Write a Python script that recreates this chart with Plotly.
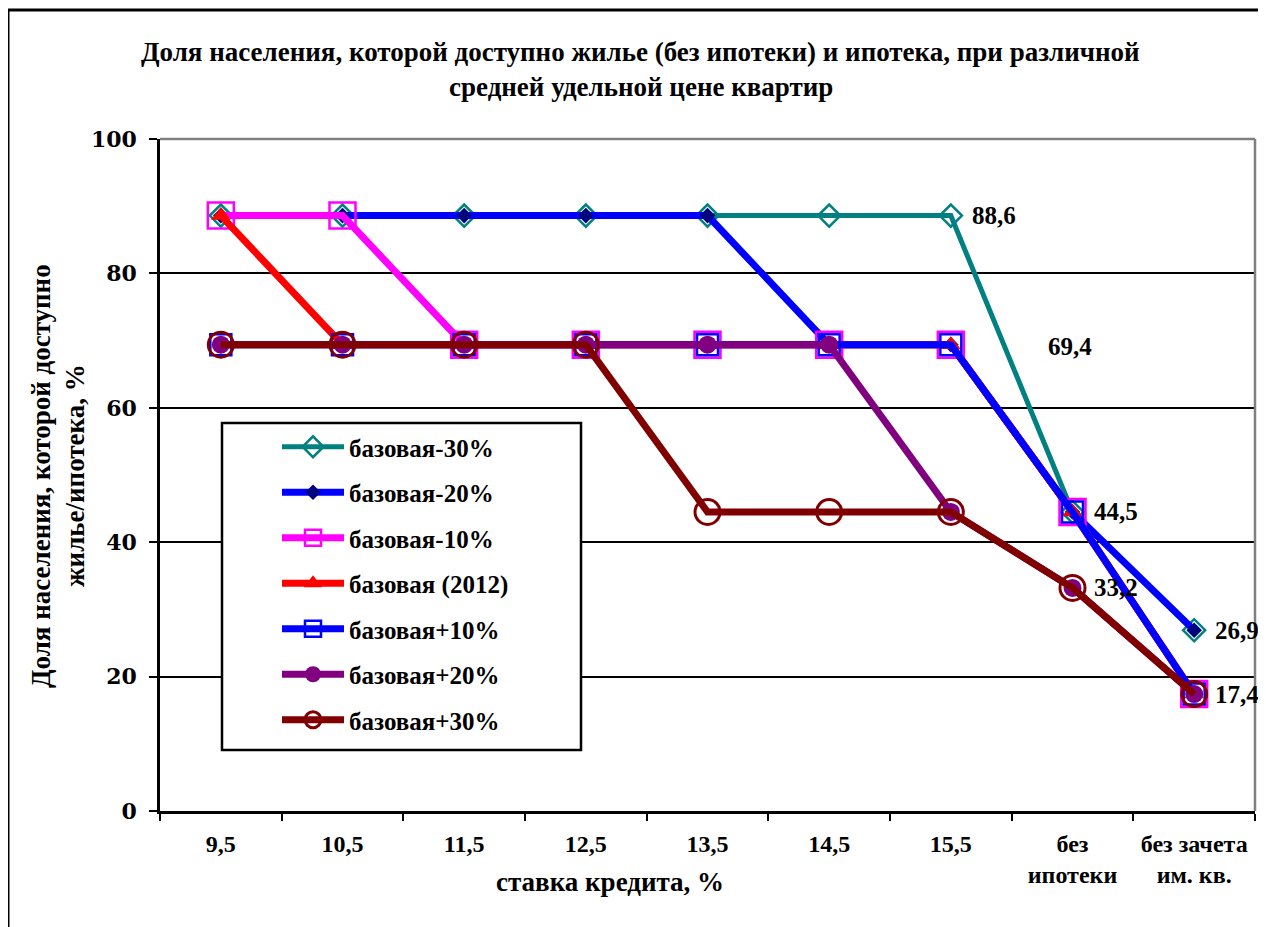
import plotly.graph_objects as go

# ---------------- data ----------------
categories = ["9,5", "10,5", "11,5", "12,5", "13,5", "14,5", "15,5", "без ипотеки", "без зачета им. кв."]
tick_labels = ["9,5", "10,5", "11,5", "12,5", "13,5", "14,5", "15,5", "без<br>ипотеки", "без зачета<br>им. кв."]

series_names = ["базовая-30%", "базовая-20%", "базовая-10%", "базовая (2012)",
                "базовая+10%", "базовая+20%", "базовая+30%"]
base_minus30 = [88.6, 88.6, 88.6, 88.6, 88.6, 88.6, 88.6, 44.5, 26.9]
base_minus20 = [88.6, 88.6, 88.6, 88.6, 88.6, 69.4, 69.4, 44.5, 26.9]
base_minus10 = [88.6, 88.6, 69.4, 69.4, 69.4, 69.4, 69.4, 44.5, 17.4]
base_2012 = [88.6, 69.4, 69.4, 69.4, 69.4, 69.4, 69.4, 44.5, 17.4]
base_plus10 = [69.4, 69.4, 69.4, 69.4, 69.4, 69.4, 69.4, 44.5, 17.4]
base_plus20 = [69.4, 69.4, 69.4, 69.4, 69.4, 69.4, 44.5, 33.2, 17.4]
base_plus30 = [69.4, 69.4, 69.4, 69.4, 44.5, 44.5, 44.5, 33.2, 17.4]

# data labels: (category, value)
label_points = [("15,5", 88.6), ("без ипотеки", 44.5), ("без ипотеки", 33.2),
                ("без зачета им. кв.", 26.9), ("без зачета им. кв.", 17.4)]
floating_label = ("без ипотеки", 69.4)

title_lines = ["Доля населения, которой доступно жилье (без ипотеки) и ипотека, при различной",
               "средней удельной цене квартир"]
x_title = "ставка кредита, %"
y_title_lines = ["Доля населения, которой доступно", "жилье/ипотека, %"]

# ---------------- styling ----------------
W, H = 1266, 927
L, R, T, B = 152, 19, 131, 124
PW, PH = W - L - R, H - T - B
OFF = 8  # page body offset of the rendered figure

def sx(x):
    """screen x -> paper x"""
    return (x - OFF - L) / PW

def sy(y):
    """screen y -> paper y"""
    return (H - B - (y - OFF)) / PH

SERIF = "Liberation Serif"
teal, blue, magenta, red, navy, purple, maroon = (
    "#008080", "#0000FF", "#FF00FF", "#FF0000", "#000080", "#800080", "#800000")

styles = [
    dict(line=dict(color=teal, width=5),
         marker=dict(symbol="diamond-open", size=17, color=teal, line=dict(width=2.5, color=teal))),
    dict(line=dict(color=blue, width=7),
         marker=dict(symbol="diamond", size=12, color=navy, line=dict(width=0))),
    dict(line=dict(color=magenta, width=7),
         marker=dict(symbol="square-open", size=26, color=magenta, line=dict(width=2.5, color=magenta))),
    dict(line=dict(color=red, width=7),
         marker=dict(symbol="triangle-up", size=17, color=red, line=dict(width=0))),
    dict(line=dict(color=blue, width=7),
         marker=dict(symbol="square-open", size=21, color=blue, line=dict(width=2.5, color=blue))),
    dict(line=dict(color=purple, width=7),
         marker=dict(symbol="circle", size=18, color=purple, line=dict(width=0))),
    dict(line=dict(color=maroon, width=7),
         marker=dict(symbol="circle-open", size=25, color=maroon, line=dict(width=3, color=maroon))),
]
all_series = [base_minus30, base_minus20, base_minus10, base_2012, base_plus10, base_plus20, base_plus30]

fig = go.Figure()
for i, (name, vals, st) in enumerate(zip(series_names, all_series, styles)):
    fig.add_trace(go.Scatter(
        x=categories, y=vals, name=name, mode="lines+markers",
        line=st["line"], marker=st["marker"], legendgroup=f"g{i}",
        hoverinfo="x+y+name",
    ))

def fmt(v):
    return f"{v:.1f}".replace(".", ",")

bold = lambda size, fam=SERIF: dict(family=fam, size=size, color="black", weight="bold")

annotations = []
for cat, v in label_points:
    annotations.append(dict(x=cat, y=v, xref="x", yref="y", text=fmt(v), showarrow=False,
                            xanchor="left", yanchor="middle", xshift=19, font=bold(25)))
annotations.append(dict(x=floating_label[0], y=floating_label[1], xref="x", yref="y",
                        text=fmt(floating_label[1]), showarrow=False, xanchor="center",
                        yanchor="middle", xshift=-3, yshift=-2, font=bold(25)))
# title lines
annotations.append(dict(x=sx(640), y=sy(52), xref="paper", yref="paper", text=title_lines[0],
                        showarrow=False, xanchor="center", yanchor="middle", font=bold(27)))
annotations.append(dict(x=sx(641), y=sy(87), xref="paper", yref="paper", text=title_lines[1],
                        showarrow=False, xanchor="center", yanchor="middle", font=bold(27)))
# axis titles
annotations.append(dict(x=sx(610), y=sy(882), xref="paper", yref="paper", text=x_title,
                        showarrow=False, xanchor="center", yanchor="middle", font=bold(27)))
for xc, line in zip([41, 75], y_title_lines):
    annotations.append(dict(x=sx(xc), y=sy(476), xref="paper", yref="paper", text=line,
                            showarrow=False, xanchor="center", yanchor="middle", textangle=-90,
                            font=bold(27)))

shapes = [
    # outer frame (left and top visible)
    dict(type="line", xref="paper", yref="paper", x0=sx(8), x1=sx(8), y0=sy(10), y1=sy(H + 30),
         line=dict(color="black", width=3)),
    dict(type="line", xref="paper", yref="paper", x0=sx(8), x1=sx(W + 30), y0=sy(10), y1=sy(10),
         line=dict(color="black", width=3)),
    # plot area top / right border (gray)
    dict(type="line", xref="paper", yref="paper", x0=0, x1=1, y0=1, y1=1,
         line=dict(color="#808080", width=2.5)),
    dict(type="line", xref="paper", yref="paper", x0=1, x1=1, y0=0, y1=1,
         line=dict(color="#808080", width=2.5)),
    # legend box
    dict(type="rect", xref="paper", yref="paper", x0=sx(222), x1=sx(581), y0=sy(750), y1=sy(423),
         line=dict(color="black", width=2.5), fillcolor="white", layer="above"),
]

fig.update_layout(
    width=W, height=H,
    margin=dict(l=L, r=R, t=T, b=B, pad=0),
    paper_bgcolor="white", plot_bgcolor="white",
    showlegend=True,
    legend=dict(x=sx(277), y=sy(424), xanchor="left", yanchor="top",
                bgcolor="rgba(0,0,0,0)", borderwidth=0, tracegroupgap=10,
                itemwidth=62,
                font=bold(25), traceorder="grouped"),
    annotations=annotations,
    shapes=shapes,
    xaxis=dict(type="category", categoryorder="array", categoryarray=categories,
               tickmode="array", tickvals=categories, ticktext=tick_labels,
               range=[-0.5, len(categories) - 0.5], tickson="boundaries",
               ticks="outside", ticklen=7, tickwidth=2, tickcolor="black",
               showline=True, linecolor="black", linewidth=2.5, showgrid=False,
               ticklabelstandoff=9,
               tickfont=bold(24)),
    yaxis=dict(range=[0, 100], dtick=20, tick0=0, ticks="outside", ticklen=8, tickwidth=2,
               tickcolor="black", showline=True, linecolor="black", linewidth=2.5,
               showgrid=True, gridcolor="black", gridwidth=2, zeroline=False,
               ticklabelstandoff=8,
               tickfont=bold(22, "DejaVu Serif")),
)

fig.write_html("out.html")
